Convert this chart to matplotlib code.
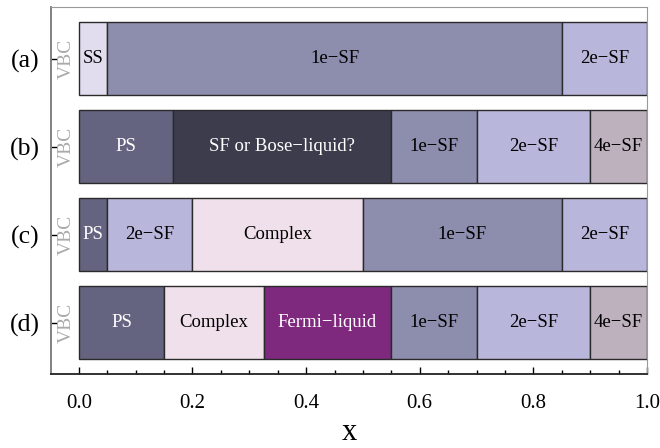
import matplotlib.pyplot as plt
from matplotlib.ticker import MultipleLocator

plt.rcParams['font.family'] = ['Liberation Serif', 'DejaVu Serif']

# phase diagram rows, top to bottom
rows = ['(a)', '(b)', '(c)', '(d)']

# boundaries of each phase along x, and the phase names
bounds_a = [0.0, 0.05, 0.85, 1.0]
names_a = ['SS', '1e\u2212SF', '2e\u2212SF']

bounds_b = [0.0, 0.165, 0.55, 0.70, 0.90, 1.0]
names_b = ['PS', 'SF or Bose\u2212liquid?', '1e\u2212SF', '2e\u2212SF', '4e\u2212SF']

bounds_c = [0.0, 0.05, 0.20, 0.50, 0.85, 1.0]
names_c = ['PS', '2e\u2212SF', 'Complex', '1e\u2212SF', '2e\u2212SF']

bounds_d = [0.0, 0.15, 0.325, 0.55, 0.70, 0.90, 1.0]
names_d = ['PS', 'Complex', 'Fermi\u2212liquid', '1e\u2212SF', '2e\u2212SF', '4e\u2212SF']

all_bounds = [bounds_a, bounds_b, bounds_c, bounds_d]
all_names = [names_a, names_b, names_c, names_d]

colors = {
    'SS': '#e1ddee',
    '1e\u2212SF': '#8d8dae',
    '2e\u2212SF': '#b8b6da',
    '4e\u2212SF': '#beb1be',
    'PS': '#646480',
    'SF or Bose\u2212liquid?': '#3c3c4d',
    'Complex': '#f0e0eb',
    'Fermi\u2212liquid': '#7e297e',
}
white_text = ['PS', 'SF or Bose\u2212liquid?', 'Fermi\u2212liquid']

fig = plt.figure(figsize=(6.6, 4.48), dpi=100)
ax = fig.add_axes([0.0773, 0.165, 0.903, 0.819])

for i in range(len(rows)):
    b = all_bounds[i]
    for j, name in enumerate(all_names[i]):
        left = b[j]
        width = b[j + 1] - b[j]
        ax.barh(i, width, left=left, height=0.83, color=colors[name],
                edgecolor='#2a2a2a', linewidth=1.0)
        tc = 'white' if name in white_text else 'black'
        ax.text(left + width / 2, i, name, ha='center', va='center',
                fontsize=13.5, color=tc)
    ax.text(-0.022, i, 'VBC', rotation=90, ha='center', va='center',
            fontsize=14, color='#aaaaaa')

ax.set_xlim(-0.049, 1.0)
ax.set_ylim(3.585, -0.585)
ax.set_yticks(range(len(rows)))
ax.set_yticklabels(rows, fontsize=18.5)
ax.xaxis.set_major_locator(MultipleLocator(0.2))
ax.xaxis.set_minor_locator(MultipleLocator(0.05))
ax.set_xticks([0.0, 0.2, 0.4, 0.6, 0.8, 1.0])
ax.set_xticklabels(['0.0', '0.2', '0.4', '0.6', '0.8', '1.0'], fontsize=15)
ax.tick_params(axis='x', which='major', direction='in', length=5, width=1, pad=14)
ax.tick_params(axis='x', which='minor', direction='in', length=3, width=1)
ax.tick_params(axis='y', direction='in', length=4, width=1, pad=8)
ax.set_xlabel('x', fontsize=22, labelpad=4)

ax.spines['bottom'].set_color('#222222')
ax.spines['bottom'].set_linewidth(1.3)
ax.spines['left'].set_color('#777777')
ax.spines['left'].set_linewidth(1.3)
ax.spines['top'].set_color('#999999')
ax.spines['right'].set_color('#999999')

fig.savefig('out.png', dpi=100)
